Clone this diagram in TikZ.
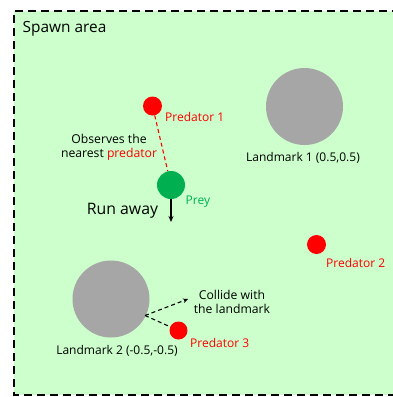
\documentclass[tikz,border=0pt]{standalone}
\usepackage{fontspec}
\setmainfont{Open Sans}
\usetikzlibrary{arrows.meta}
\definecolor{areagreen}{HTML}{CCFFCC}
\definecolor{preygreen}{HTML}{00B050}
\definecolor{predred}{HTML}{FF0000}
\definecolor{markgray}{HTML}{A6A6A6}
\tikzset{
  agent/.style={circle, inner sep=0pt, draw=none},
  predator/.style={agent, fill=predred, minimum size=19pt},
  landmark/.style={agent, fill=markgray, minimum size=77pt},
  tag/.style={inner sep=0pt, font=\fontsize{12}{14}\selectfont},
  redtag/.style={tag, text=predred, anchor=west},
  note/.style={inner sep=0pt, align=center, font=\fontsize{12.2}{14}\selectfont},
  hint/.style={black, line width=1.1pt, dash pattern=on 4pt off 3pt},
}
\begin{document}
\begin{tikzpicture}[x=1pt, y=-1pt]
\useasboundingbox (0,0) rectangle (393,397);
% spawn area
\fill[areagreen] (14,11) rectangle (400,395);
\draw[line width=2pt, dash pattern=on 8pt off 5pt] (400,11) -- (14,11) -- (14,395) -- (400,395);
\node[anchor=west, inner sep=0pt, font=\fontsize{15.4}{17}\selectfont] (title) at (22.5,28.5) {Spawn area};

% landmarks
\node[landmark] (lm1) at (304.5,106.5) {};
\node[tag] (lm1lab) at (303,157.5) {Landmark 1 (0.5,0.5)};
\node[landmark] (lm2) at (111,299) {};
\node[tag] (lm2lab) at (117,351) {Landmark 2 (-0.5,-0.5)};

% predators
\node[predator] (p1) at (152.5,106) {};
\node[redtag] (p1lab) at (165,117) {Predator 1};
\node[predator] (p2) at (316.5,244.5) {};
\node[redtag] (p2lab) at (326,263) {Predator 2};
\node[predator, minimum size=18pt] (p3) at (178.5,330.5) {};
\node[redtag] (p3lab) at (190,343) {Predator 3};

% prey
\node[agent, fill=preygreen, minimum size=28pt] (prey) at (171,185) {};
\node[tag, text=preygreen, anchor=west] (preylab) at (185.5,202) {Prey};

% observation of the nearest predator
\draw[predred, line width=1.1pt, dash pattern=on 4pt off 3pt] (p1) -- (prey);
\node[note] (obs) at (109,147.5) {Observes the\\nearest \textcolor{predred}{predator}};

% escape move
\coordinate (runend) at (171,222);
\draw[line width=1.4pt, -{Stealth[length=6pt, width=5pt]}] (prey) -- (runend);
\node[inner sep=0pt, font=\fontsize{15.8}{18}\selectfont] (run) at (122.5,211) {Run away};

% collision with landmark 2
\coordinate (hit) at (145,315.5);
\coordinate (bounce) at (188,299);
\draw[hint] (hit) -- (p3);
\draw[hint, -{Stealth[length=5pt, width=4.5pt]}] (hit) -- (bounce);
\node[note] (coll) at (232,302) {Collide with\\the landmark};
\end{tikzpicture}
\end{document}
